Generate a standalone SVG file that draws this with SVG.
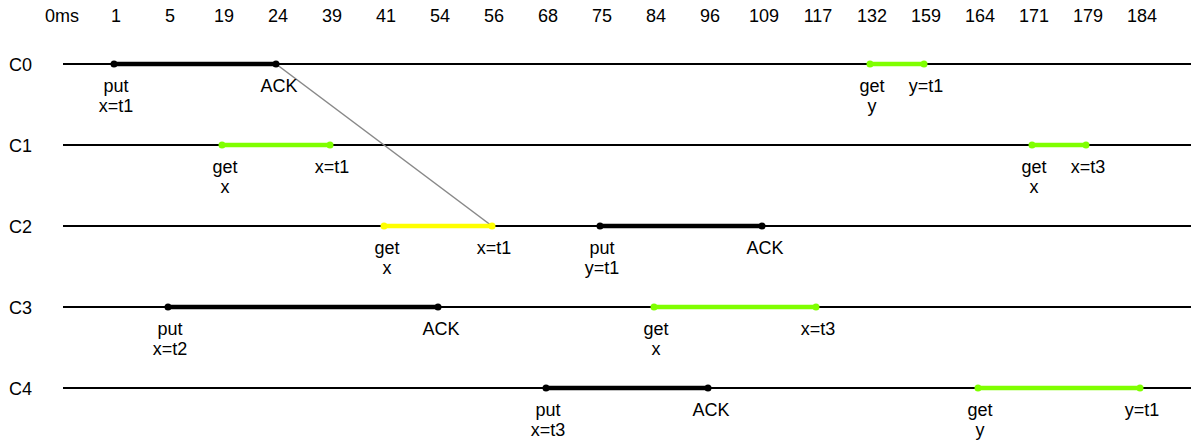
<svg xmlns="http://www.w3.org/2000/svg" width="1191" height="444" viewBox="0 0 1191 444">
<style>
text{font-family:"Liberation Sans",Arial,sans-serif;font-size:18px;fill:#000}
.h{text-anchor:middle}
.l{text-anchor:middle}
.base{stroke:#000;stroke-width:2.2;fill:none}
.put{stroke:#000;stroke-width:4.5}
.grn{stroke:#7FFF00;stroke-width:4.5}
.yel{stroke:#FFFF00;stroke-width:4.5}
.dk{fill:#000}
.dg{fill:#7FFF00}
.dy{fill:#FFFF00}
.conn{stroke:#888;stroke-width:1.5;fill:none}
</style>
<rect width="1191" height="444" fill="#fff"/>
<g id="header">
<text class="h" x="62" y="22">0ms</text>
<text class="h" x="116" y="22">1</text>
<text class="h" x="170" y="22">5</text>
<text class="h" x="224" y="22">19</text>
<text class="h" x="278" y="22">24</text>
<text class="h" x="332" y="22">39</text>
<text class="h" x="386" y="22">41</text>
<text class="h" x="440" y="22">54</text>
<text class="h" x="494" y="22">56</text>
<text class="h" x="548" y="22">68</text>
<text class="h" x="602" y="22">75</text>
<text class="h" x="656" y="22">84</text>
<text class="h" x="710" y="22">96</text>
<text class="h" x="764" y="22">109</text>
<text class="h" x="818" y="22">117</text>
<text class="h" x="872" y="22">132</text>
<text class="h" x="926" y="22">159</text>
<text class="h" x="980" y="22">164</text>
<text class="h" x="1034" y="22">171</text>
<text class="h" x="1088" y="22">179</text>
<text class="h" x="1142" y="22">184</text>
</g>
<g id="lane-C0"><text x="9" y="71">C0</text><line class="base" x1="63" y1="64" x2="1191" y2="64"/></g>
<g id="lane-C1"><text x="9" y="152">C1</text><line class="base" x1="63" y1="145" x2="1191" y2="145"/></g>
<g id="lane-C2"><text x="9" y="233">C2</text><line class="base" x1="63" y1="226" x2="1191" y2="226"/></g>
<g id="lane-C3"><text x="9" y="314">C3</text><line class="base" x1="63" y1="307" x2="1191" y2="307"/></g>
<g id="lane-C4"><text x="9" y="395">C4</text><line class="base" x1="63" y1="388" x2="1191" y2="388"/></g>
<g id="connectors">
<line class="conn" x1="276" y1="64" x2="492" y2="226"/>
</g>
<g id="c0-put">
<line class="put" x1="114" y1="64" x2="276" y2="64"/>
<circle class="dk" cx="114" cy="64" r="3.5"/><circle class="dk" cx="276" cy="64" r="3.5"/>
<text class="l" x="116" y="92">put</text><text class="l" x="116" y="112">x=t1</text>
<text class="l" x="279" y="92">ACK</text>
</g>
<g id="c0-get">
<line class="grn" x1="870" y1="64" x2="924" y2="64"/>
<circle class="dg" cx="870" cy="64" r="3.5"/><circle class="dg" cx="924" cy="64" r="3.5"/>
<text class="l" x="872" y="92">get</text><text class="l" x="872" y="112">y</text>
<text class="l" x="926" y="92">y=t1</text>
</g>
<g id="c1-get1">
<line class="grn" x1="222" y1="145" x2="330" y2="145"/>
<circle class="dg" cx="222" cy="145" r="3.5"/><circle class="dg" cx="330" cy="145" r="3.5"/>
<text class="l" x="225" y="173">get</text><text class="l" x="225" y="193">x</text>
<text class="l" x="332" y="173">x=t1</text>
</g>
<g id="c1-get2">
<line class="grn" x1="1032" y1="145" x2="1086" y2="145"/>
<circle class="dg" cx="1032" cy="145" r="3.5"/><circle class="dg" cx="1086" cy="145" r="3.5"/>
<text class="l" x="1034" y="173">get</text><text class="l" x="1034" y="193">x</text>
<text class="l" x="1088" y="173">x=t3</text>
</g>
<g id="c2-get">
<line class="yel" x1="384" y1="226" x2="492" y2="226"/>
<circle class="dy" cx="384" cy="226" r="3.5"/><circle class="dy" cx="492" cy="226" r="3.5"/>
<text class="l" x="387" y="254">get</text><text class="l" x="387" y="274">x</text>
<text class="l" x="494" y="254">x=t1</text>
</g>
<g id="c2-put">
<line class="put" x1="600" y1="226" x2="762" y2="226"/>
<circle class="dk" cx="600" cy="226" r="3.5"/><circle class="dk" cx="762" cy="226" r="3.5"/>
<text class="l" x="602" y="254">put</text><text class="l" x="602" y="274">y=t1</text>
<text class="l" x="765" y="254">ACK</text>
</g>
<g id="c3-put">
<line class="put" x1="168" y1="307" x2="438" y2="307"/>
<circle class="dk" cx="168" cy="307" r="3.5"/><circle class="dk" cx="438" cy="307" r="3.5"/>
<text class="l" x="170" y="335">put</text><text class="l" x="170" y="355">x=t2</text>
<text class="l" x="441" y="335">ACK</text>
</g>
<g id="c3-get">
<line class="grn" x1="654" y1="307" x2="816" y2="307"/>
<circle class="dg" cx="654" cy="307" r="3.5"/><circle class="dg" cx="816" cy="307" r="3.5"/>
<text class="l" x="656" y="335">get</text><text class="l" x="656" y="355">x</text>
<text class="l" x="818" y="335">x=t3</text>
</g>
<g id="c4-put">
<line class="put" x1="546" y1="388" x2="708" y2="388"/>
<circle class="dk" cx="546" cy="388" r="3.5"/><circle class="dk" cx="708" cy="388" r="3.5"/>
<text class="l" x="548" y="416">put</text><text class="l" x="548" y="436">x=t3</text>
<text class="l" x="711" y="416">ACK</text>
</g>
<g id="c4-get">
<line class="grn" x1="978" y1="388" x2="1140" y2="388"/>
<circle class="dg" cx="978" cy="388" r="3.5"/><circle class="dg" cx="1140" cy="388" r="3.5"/>
<text class="l" x="980" y="416">get</text><text class="l" x="980" y="436">y</text>
<text class="l" x="1142" y="416">y=t1</text>
</g>
</svg>
